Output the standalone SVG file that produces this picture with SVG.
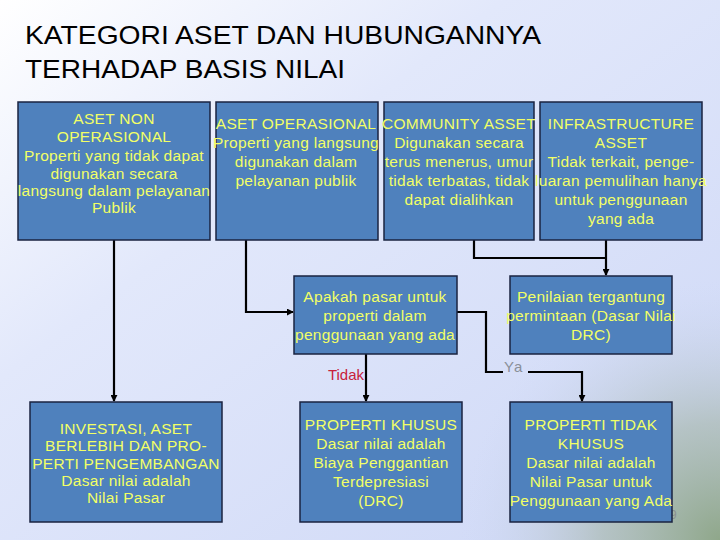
<svg xmlns="http://www.w3.org/2000/svg" width="720" height="540" viewBox="0 0 720 540">
<defs>
<linearGradient id="bg" x1="0" y1="0" x2="1" y2="1">
<stop offset="0" stop-color="#ffffff"/>
<stop offset="0.35" stop-color="#e2e8fb"/>
<stop offset="1" stop-color="#cdd7f6"/>
</linearGradient>
<radialGradient id="corner" cx="720" cy="540" r="260" gradientUnits="userSpaceOnUse">
<stop offset="0" stop-color="#8fa78a" stop-opacity="1"/>
<stop offset="0.45" stop-color="#a9b9b0" stop-opacity="0.7"/>
<stop offset="1" stop-color="#cdd7f6" stop-opacity="0"/>
</radialGradient>
<marker id="arr" viewBox="0 0 8 8" refX="7" refY="4" markerWidth="7" markerHeight="7" markerUnits="userSpaceOnUse" orient="auto">
<path d="M0,0 L8,4 L0,8 Z" fill="#000"/>
</marker>
<style>
.box{fill:#4f81bd;stroke:#1a2340;stroke-width:1.5}
.t{font-family:"Liberation Sans",Arial,sans-serif;font-size:15.5px;letter-spacing:0.3px;fill:#f2ff66;text-anchor:middle}
.c{fill:none;stroke:#000;stroke-width:2.2}
.title{font-family:"Liberation Sans",Arial,sans-serif;font-size:26px;fill:#000}
</style>
</defs>
<rect width="720" height="540" fill="url(#bg)"/>
<rect width="720" height="540" fill="url(#corner)"/>
<text class="title" x="25" y="44" textLength="516" lengthAdjust="spacingAndGlyphs">KATEGORI ASET DAN HUBUNGANNYA</text>
<text class="title" x="25" y="78" textLength="320" lengthAdjust="spacingAndGlyphs">TERHADAP BASIS NILAI</text>

<g id="connectors">
<path class="c" d="M114,240 V401" marker-end="url(#arr)"/>
<path class="c" d="M246,240 V312 H293" marker-end="url(#arr)"/>
<path class="c" d="M474,240 V258 H606"/>
<path class="c" d="M606,240 V275" marker-end="url(#arr)"/>
<path class="c" d="M457,312 H486 V372 H503"/>
<path class="c" d="M528,372 H582 V401" marker-end="url(#arr)"/>
<path class="c" d="M366,354 V401" marker-end="url(#arr)"/>
<text x="364" y="380" font-family="'Liberation Sans',Arial,sans-serif" font-size="15" fill="#c8203a" text-anchor="end">Tidak</text>
<text x="504" y="372" font-family="'Liberation Sans',Arial,sans-serif" font-size="15" fill="#8a8f99" letter-spacing="1">Ya</text>
</g>

<g id="n1">
<rect class="box" x="18" y="102" width="192" height="138"/>
<text class="t"><tspan x="114" y="124">ASET NON</tspan><tspan x="114" y="142">OPERASIONAL</tspan><tspan x="114" y="161">Properti yang tidak dapat</tspan><tspan x="114" y="179">digunakan secara</tspan><tspan x="114" y="196">langsung dalam pelayanan</tspan><tspan x="114" y="213">Publik</tspan></text>
</g>
<g id="n2">
<rect class="box" x="216" y="102" width="162" height="138"/>
<text class="t"><tspan x="296" y="129">ASET OPERASIONAL</tspan><tspan x="296" y="148">Properti yang langsung</tspan><tspan x="296" y="167">digunakan dalam</tspan><tspan x="296" y="186">pelayanan publik</tspan></text>
</g>
<g id="n3">
<rect class="box" x="384" y="102" width="150" height="138"/>
<text class="t"><tspan x="459" y="129">COMMUNITY ASSET</tspan><tspan x="459" y="148">Digunakan secara</tspan><tspan x="459" y="167">terus menerus, umur</tspan><tspan x="459" y="186">tidak terbatas, tidak</tspan><tspan x="459" y="205">dapat dialihkan</tspan></text>
</g>
<g id="n4">
<rect class="box" x="540" y="102" width="162" height="138"/>
<text class="t"><tspan x="621" y="129">INFRASTRUCTURE</tspan><tspan x="621" y="148">ASSET</tspan><tspan x="621" y="167">Tidak terkait, penge-</tspan><tspan x="621" y="186">luaran pemulihan hanya</tspan><tspan x="621" y="205">untuk penggunaan</tspan><tspan x="621" y="224">yang ada</tspan></text>
</g>
<g id="n5">
<rect class="box" x="294" y="276" width="163" height="78"/>
<text class="t"><tspan x="375" y="302">Apakah pasar untuk</tspan><tspan x="375" y="321">properti dalam</tspan><tspan x="375" y="340">penggunaan yang ada</tspan></text>
</g>
<g id="n6">
<rect class="box" x="510" y="276" width="162" height="78"/>
<text class="t"><tspan x="591" y="302">Penilaian tergantung</tspan><tspan x="591" y="321">permintaan (Dasar Nilai</tspan><tspan x="591" y="340">DRC)</tspan></text>
</g>
<g id="n7">
<rect class="box" x="30" y="402" width="192" height="120"/>
<text class="t"><tspan x="126" y="434">INVESTASI, ASET</tspan><tspan x="126" y="451">BERLEBIH DAN PRO-</tspan><tspan x="126" y="469">PERTI PENGEMBANGAN</tspan><tspan x="126" y="486">Dasar nilai adalah</tspan><tspan x="126" y="503">Nilai Pasar</tspan></text>
</g>
<g id="n8">
<rect class="box" x="300" y="402" width="162" height="120"/>
<text class="t"><tspan x="381" y="430">PROPERTI KHUSUS</tspan><tspan x="381" y="449">Dasar nilai adalah</tspan><tspan x="381" y="468">Biaya Penggantian</tspan><tspan x="381" y="487">Terdepresiasi</tspan><tspan x="381" y="506">(DRC)</tspan></text>
</g>
<g id="n9">
<text x="670" y="519" font-family="'Liberation Sans',Arial,sans-serif" font-size="12" fill="#8a9090">9</text>
<rect class="box" x="510" y="402" width="162" height="120"/>
<text class="t"><tspan x="591" y="430">PROPERTI TIDAK</tspan><tspan x="591" y="449">KHUSUS</tspan><tspan x="591" y="468">Dasar nilai adalah</tspan><tspan x="591" y="487">Nilai Pasar untuk</tspan><tspan x="591" y="506">Penggunaan yang Ada</tspan></text>
</g>
</svg>
